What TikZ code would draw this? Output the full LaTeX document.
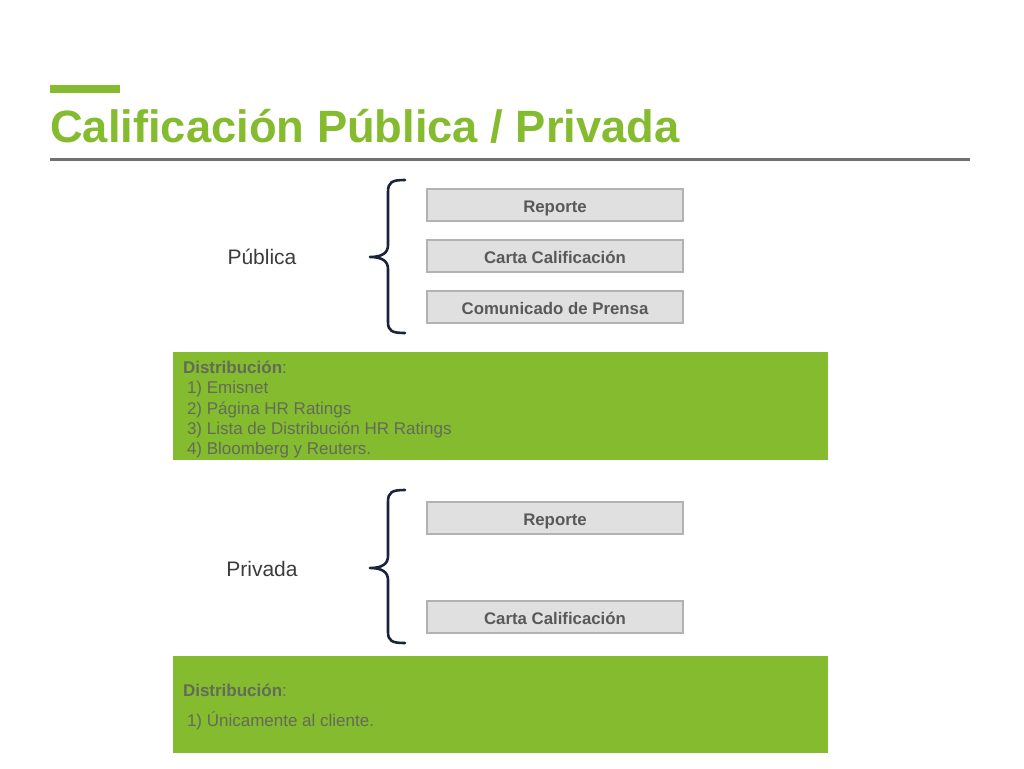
\documentclass[tikz,border=0pt]{standalone}
\usepackage{fontspec}
\setmainfont{Liberation Sans}
\definecolor{hrgreen}{RGB}{132,187,47}
\definecolor{boxgray}{RGB}{224,224,224}
\definecolor{boxline}{RGB}{178,178,178}
\definecolor{boxtext}{RGB}{89,89,89}
\definecolor{rulegray}{RGB}{112,112,112}
\definecolor{bracecol}{RGB}{25,35,60}
\definecolor{greentext}{RGB}{98,108,88}
\definecolor{labeltext}{RGB}{60,60,60}
\tikzset{
  itembox/.style={draw=boxline, line width=1.2pt, fill=boxgray, minimum width=256pt, minimum height=32pt, inner sep=0pt, text height=14pt, text depth=0pt, font=\fontsize{16.8}{18}\selectfont\bfseries, text=boxtext},
  distbox/.style={fill=hrgreen, minimum width=655pt, inner sep=0pt},
  disttext/.style={text=greentext, font=\fontsize{17}{20.3}\selectfont, align=left, anchor=north west, inner sep=0pt},
  seclabel/.style={font=\fontsize{21}{24}\selectfont, text=labeltext},
  bracepath/.style={draw=bracecol, line width=2.6pt, line cap=round, line join=round}
}
\begin{document}
\begin{tikzpicture}[x=1pt,y=-1pt]
\useasboundingbox (0,0) rectangle (1024,768);
% title
\fill[hrgreen] (50,85) rectangle (120,93);
\node[anchor=base west, inner sep=0pt, text=hrgreen, font=\fontsize{45.3}{50}\selectfont\bfseries] (title) at (50,142) {Calificación Pública / Privada};
\draw[rulegray, line width=3pt] (50,159) -- (970,159);
% Publica
\node[itembox] (r1) at (555,205) {Reporte};
\node[itembox] (c1) at (555,256) {Carta Calificación};
\node[itembox] (p1) at (555,307) {Comunicado de Prensa};
\node[seclabel] (pub) at (262,257) {Pública};
\coordinate (b1t) at (405,180);
\coordinate (b1m) at (370,257);
\coordinate (b1b) at (405,333);
\draw[bracepath] (b1t) .. controls (392,180) and (388,182) .. (388,192) -- (388,245) .. controls (388,253) and (382,257) .. (b1m) .. controls (382,257) and (388,261) .. (388,269) -- (388,322) .. controls (388,331) and (392,333) .. (b1b);
\node[distbox, minimum height=108pt] (d1) at (500.5,406) {};
\node[disttext] (d1t) at ([xshift=10pt,yshift=-9pt]d1.north west) {\textbf{Distribución}:\\ \hspace*{4pt}1) Emisnet\\ \hspace*{4pt}2) Página HR Ratings\\ \hspace*{4pt}3) Lista de Distribución HR Ratings\\ \hspace*{4pt}4) Bloomberg y Reuters.};
% Privada
\node[itembox] (r2) at (555,518) {Reporte};
\node[itembox] (c2) at (555,617) {Carta Calificación};
\node[seclabel] (priv) at (262,569) {Privada};
\coordinate (b2t) at (405,490);
\coordinate (b2m) at (370,568);
\coordinate (b2b) at (405,643);
\draw[bracepath] (b2t) .. controls (392,490) and (388,492) .. (388,502) -- (388,556) .. controls (388,564) and (382,568) .. (b2m) .. controls (382,568) and (388,572) .. (388,580) -- (388,632) .. controls (388,641) and (392,643) .. (b2b);
\node[distbox, minimum height=97pt] (d2) at (500.5,704.5) {};
\node[disttext, font=\fontsize{17}{30}\selectfont] (d2t) at ([xshift=10pt,yshift=-28pt]d2.north west) {\textbf{Distribución}:\\ \hspace*{4pt}1) Únicamente al cliente.};
\end{tikzpicture}
\end{document}
